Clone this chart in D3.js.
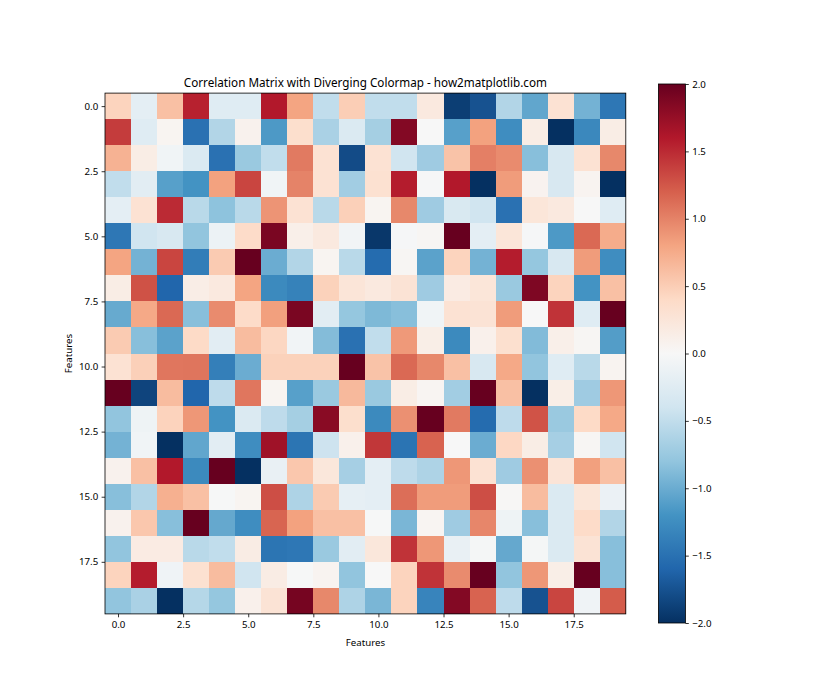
<!DOCTYPE html>
<html>
<head>
<meta charset="utf-8">
<script src="https://cdn.jsdelivr.net/npm/d3@7"></script>
<style>
  html, body { margin: 0; padding: 0; background: #fff; }
  svg text { font-family: "Noto Sans", "Open Sans", sans-serif; fill: #000; }
</style>
</head>
<body>
<svg id="chart" width="840" height="700"></svg>
<script>
const chartTitle = "Correlation Matrix with Diverging Colormap - how2matplotlib.com";
const xLabel = "Features";
const yLabel = "Features";
const axisTicks = [0, 2.5, 5, 7.5, 10, 12.5, 15, 17.5];
const colorbarTicks = [-2, -1.5, -1, -0.5, 0, 0.5, 1, 1.5, 2];
const featureIndex = d3.range(20);

const row0  = [0.45, -0.2, 0.6, 1.55, -0.25, -0.25, 1.6, 0.8, -0.5, 0.5, -0.5, -0.5, 0.2, -1.9, -1.75, -0.6, -1.05, 0.3, -0.95, -1.45];
const row1  = [1.4, -0.25, 0.05, -1.5, -0.6, 0.08, -1.15, 0.35, -0.65, -0.3, -0.68, 1.85, 0.0, -1.1, 0.82, -1.25, 0.15, -2.0, -1.3, 0.15];
const row2  = [0.7, 0.15, -0.07, -0.3, -1.5, -0.75, -0.5, 1.05, 0.3, -1.8, 0.3, -0.4, -0.72, 0.58, 1.02, 0.95, -0.85, -0.33, 0.3, 0.97];
const row3  = [-0.5, -0.22, -1.1, -1.2, 0.82, 1.35, -0.07, 1.0, 0.3, -0.7, 0.32, 1.58, -0.02, 1.6, -2.0, 0.85, 0.07, -0.33, 0.06, -2.0];
const row4  = [-0.2, 0.3, 1.5, -0.55, -0.82, -0.55, 0.9, 0.3, -0.55, 0.48, 0.05, 0.97, -0.72, -0.32, -0.4, -1.5, 0.25, 0.2, 0.0, -0.25];
const row5  = [-1.45, -0.4, -0.33, -0.8, -0.12, 0.38, 1.9, 0.12, 0.2, -0.06, -1.95, -0.02, 0.03, 2.0, -0.2, 0.25, -0.02, -1.15, 1.15, 0.75];
const row6  = [0.8, -0.95, 1.35, -1.4, 0.52, 2.0, -1.0, -0.6, 0.05, -0.55, -1.55, 0.03, -1.08, 0.45, -0.95, 1.58, -0.78, -0.33, 0.85, -1.25];
const row7  = [0.15, 1.28, -1.6, 0.14, 0.2, 0.8, -1.28, -1.35, 0.47, 0.26, 0.2, 0.28, -0.72, 0.17, 0.25, -0.75, 1.88, 0.45, -1.2, 0.6];
const row8  = [-1.02, 0.77, 1.15, -0.85, 0.95, 0.38, 0.83, 1.9, -0.22, -0.78, -0.9, -0.85, -0.07, 0.3, 0.28, 0.85, 0.0, 1.45, -0.25, 2.0];
const row9  = [0.52, -0.85, -1.08, 0.4, -0.22, 0.63, 0.43, -0.06, -0.87, -1.5, -0.5, 0.87, 0.13, -1.28, 0.1, 0.33, -0.88, 0.12, 0.03, -1.12];
const row10 = [0.3, 0.48, 1.07, 1.08, -1.38, -1.0, 0.47, 0.47, 0.47, 2.0, 0.58, 1.15, 0.97, 0.6, -0.33, 0.77, -0.8, -0.25, -0.55, 0.06];
const row11 = [2.0, -1.85, 0.63, -1.6, -0.52, 1.07, 0.05, -1.1, -0.75, 0.65, -0.75, 0.15, 0.04, -0.7, 2.0, 0.6, -2.0, 0.13, -0.72, 0.88];
const row12 = [-0.8, -0.1, 0.46, 0.88, -1.2, -0.3, -0.52, -0.68, 1.82, 0.35, -1.28, 0.92, 2.0, 1.05, -1.55, -0.52, 1.27, -0.75, 0.4, 0.77];
const row13 = [-0.95, -0.07, -2.0, -1.05, -0.22, -1.25, 1.7, -1.47, -0.42, 0.1, 1.43, -1.48, 1.18, 0.0, -1.0, 0.42, 0.15, -0.67, 0.03, -0.4];
const row14 = [0.08, 0.6, 1.6, -1.28, 2.0, -2.0, -0.15, 0.55, 0.23, -0.67, -0.2, -0.52, -0.62, 0.88, 0.3, -0.72, 0.92, 0.27, 0.83, 0.6];
const row15 = [-0.85, -0.6, 0.72, 0.6, -0.01, 0.05, 1.3, -0.62, 0.52, -0.18, -0.2, 1.12, 0.85, 0.85, 1.3, 0.02, 0.63, -0.3, 0.25, -0.13];
const row16 = [0.08, 0.55, -0.85, 2.0, -1.03, -1.25, 1.17, 0.82, 0.6, 0.6, -0.01, -0.92, 0.04, -0.72, 0.98, -0.1, -0.85, -0.3, 0.38, -0.6];
const row17 = [-0.8, 0.17, 0.17, -0.55, -0.5, 0.16, -1.47, -1.45, -0.75, -0.22, 0.23, 1.45, 0.88, -0.15, -0.03, -1.03, -0.03, -0.3, 0.28, -0.85];
const row18 = [0.45, 1.58, -0.08, 0.32, 0.63, -0.4, 0.16, -0.01, 0.06, -0.8, 0.0, 0.45, 1.45, 0.95, 2.0, -0.8, 0.88, 0.13, 2.0, -0.85];
const row19 = [-0.8, -0.65, -2.0, -0.58, -0.78, 0.1, 0.28, 1.92, 0.97, -0.62, -0.92, 0.45, -1.33, 1.85, 1.18, -0.52, -1.75, 1.35, -0.08, 1.22];

const matrix = [row0, row1, row2, row3, row4, row5, row6, row7, row8, row9,
                row10, row11, row12, row13, row14, row15, row16, row17, row18, row19];

// RdBu_r colormap (piecewise linear through the 11 ColorBrewer stops), vmin -2, vmax 2
const rdbuStops = ["#053061","#2166ac","#4393c3","#92c5de","#d1e5f0","#f7f7f7","#fddbc7","#f4a582","#d6604d","#b2182b","#67001f"];
const vmin = -2, vmax = 2;
const color = d3.scaleLinear()
  .domain(d3.range(rdbuStops.length).map(i => vmin + i * (vmax - vmin) / (rdbuStops.length - 1)))
  .range(rdbuStops)
  .interpolate(d3.interpolateRgb)
  .clamp(true);

const svg = d3.select("#chart");
const plotL = 105, plotT = 93.1, plotSize = 520.8;
const x = d3.scaleLinear().domain([-0.5, 19.5]).range([plotL, plotL + plotSize]);
const y = d3.scaleLinear().domain([-0.5, 19.5]).range([plotT, plotT + plotSize]);

const cells = [];
matrix.forEach((row, r) => row.forEach((v, c) => cells.push({ r, c, v })));

svg.append("g").selectAll("rect").data(cells).join("rect")
  .attr("x", d => x(featureIndex[d.c] - 0.5))
  .attr("y", d => y(featureIndex[d.r] - 0.5))
  .attr("width", d => x(d.c + 0.5) - x(d.c - 0.5) + 0.3)
  .attr("height", d => y(d.r + 0.5) - y(d.r - 0.5) + 0.3)
  .attr("fill", d => color(d.v))
  .attr("shape-rendering", "crispEdges");

const fmt = d => d3.format(".1f")(d).replace("-", "\u2212");
const tickFont = "9.7px";

const xAxis = svg.append("g")
  .attr("transform", `translate(0,${plotT + plotSize})`)
  .call(d3.axisBottom(x).tickValues(axisTicks).tickFormat(fmt).tickSize(3.4).tickPadding(3.4));
const yAxis = svg.append("g")
  .attr("transform", `translate(${plotL},0)`)
  .call(d3.axisLeft(y).tickValues(axisTicks).tickFormat(fmt).tickSize(3.4).tickPadding(3.4));
[xAxis, yAxis].forEach(g => {
  g.select(".domain").remove();
  g.selectAll("line").attr("stroke", "#000").attr("stroke-width", 0.8);
  g.selectAll("text").style("font-size", tickFont).style("font-family", "'Noto Sans', sans-serif");
});

// spines
svg.append("rect")
  .attr("x", plotL).attr("y", plotT).attr("width", plotSize).attr("height", plotSize)
  .attr("fill", "none").attr("stroke", "#000").attr("stroke-width", 0.8);

// title & labels
svg.append("text").attr("x", plotL + plotSize / 2).attr("y", 87)
  .attr("text-anchor", "middle").style("font-size", "11.7px").text(chartTitle);
svg.append("text").attr("x", plotL + plotSize / 2).attr("y", 646)
  .attr("text-anchor", "middle").style("font-size", "9.7px").text(xLabel);
svg.append("text").attr("transform", `translate(72,${plotT + plotSize / 2}) rotate(-90)`)
  .attr("text-anchor", "middle").style("font-size", "9.7px").text(yLabel);

// colorbar
const cbL = 658.4, cbW = 27, cbT = 84, cbB = 623;
const cbScale = d3.scaleLinear().domain([vmin, vmax]).range([cbB, cbT]);
const defs = svg.append("defs");
const grad = defs.append("linearGradient").attr("id", "cbgrad")
  .attr("x1", 0).attr("y1", 1).attr("x2", 0).attr("y2", 0);
grad.selectAll("stop").data(color.domain()).join("stop")
  .attr("offset", d => (d - vmin) / (vmax - vmin))
  .attr("stop-color", d => color(d));
svg.append("rect").attr("x", cbL).attr("y", cbT).attr("width", cbW).attr("height", cbB - cbT)
  .attr("fill", "url(#cbgrad)");
svg.append("rect").attr("x", cbL).attr("y", cbT).attr("width", cbW).attr("height", cbB - cbT)
  .attr("fill", "none").attr("stroke", "#000").attr("stroke-width", 0.8);
const cbAxis = svg.append("g").attr("transform", `translate(${cbL + cbW},0)`)
  .call(d3.axisRight(cbScale).tickValues(colorbarTicks).tickFormat(fmt).tickSize(3.4).tickPadding(3.4));
cbAxis.select(".domain").remove();
cbAxis.selectAll("line").attr("stroke", "#000").attr("stroke-width", 0.8);
cbAxis.selectAll("text").style("font-size", tickFont).style("font-family", "'Noto Sans', sans-serif");
</script>
</body>
</html>
